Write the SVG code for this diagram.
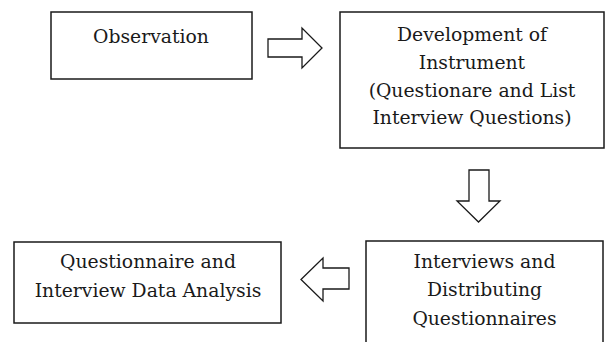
<svg xmlns="http://www.w3.org/2000/svg" width="605" height="342" viewBox="0 0 605 342">
<style>
.box{fill:#fff;stroke:#1a1a1a;stroke-width:1.5}
.arrow{fill:#fff;stroke:#1a1a1a;stroke-width:1.3;stroke-linejoin:miter}
.t{font-family:"DejaVu Serif","Liberation Serif",serif;font-size:18.8px;fill:#1a1a1a;text-anchor:middle}
</style>
<rect width="605" height="342" fill="#fff"/>
<g id="observation">
<rect class="box" x="51" y="12" width="201" height="67"/>
<text class="t" x="151" y="43">Observation</text>
</g>
<g id="development">
<rect class="box" x="340" y="12" width="264" height="136"/>
<text class="t" x="472" y="41">Development of</text>
<text class="t" x="472" y="69">Instrument</text>
<text class="t" x="472" y="97">(Questionare and List</text>
<text class="t" x="472" y="124">Interview Questions)</text>
</g>
<g id="interviews">
<rect class="box" x="366" y="241" width="237" height="110"/>
<text class="t" x="484.5" y="268">Interviews and</text>
<text class="t" x="484.5" y="296">Distributing</text>
<text class="t" x="484.5" y="325">Questionnaires</text>
</g>
<g id="analysis">
<rect class="box" x="14" y="242" width="267" height="81"/>
<text class="t" x="148" y="268">Questionnaire and</text>
<text class="t" x="148" y="297">Interview Data Analysis</text>
</g>
<g id="connectors">
<polygon class="arrow" points="268,39 302,39 302,28 322,48 302,68 302,57 268,57"/>
<polygon class="arrow" points="469,170 489,170 489,201 500,201 478.5,222 457,201 469,201"/>
<polygon class="arrow" points="349,268 323,268 323,258 301,279.5 323,301 323,289 349,289"/>
</g>
</svg>
